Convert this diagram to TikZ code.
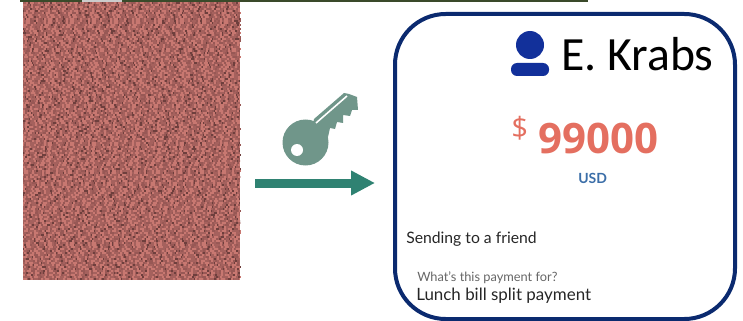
\documentclass[tikz,border=0pt]{standalone}
\usepackage{fontspec}
\setmainfont{Lato}
\newfontfamily\krabsfont{Carlito}
\newfontfamily\amountfont{Open Sans}
\usetikzlibrary{arrows.meta, positioning}
\definecolor{noisedark}{HTML}{6E3F3D}
\definecolor{noisemid}{HTML}{985855}
\definecolor{noisebase}{HTML}{A5615D}
\definecolor{noiselight}{HTML}{C87871}
\definecolor{keygrey}{HTML}{70968A}
\definecolor{arrowgreen}{HTML}{2F8272}
\definecolor{cardblue}{HTML}{0B2A6F}
\definecolor{iconblue}{HTML}{12309A}
\definecolor{salmon}{HTML}{E46F60}
\definecolor{usdblue}{HTML}{3B6EA8}
\definecolor{stripgreen}{HTML}{3A4A2A}
\tikzset{
  txt/.style={inner sep=0pt, anchor=base west, text=#1},
  txt/.default=black!85,
  grain/.style={line width=1.5pt, draw=#1},
}

\begin{document}
\begin{tikzpicture}[x=0.75pt, y=-0.75pt, >=Stealth]
        \useasboundingbox (0,0) rectangle (743,321);
        % strip at the top
        \fill[stripgreen] (20,0) rectangle (588,2);
        \fill[black!20] (82,0) rectangle (122,2);
        % noise image
        \node (cipher) [fill=noisebase, inner sep=0pt, minimum width=162.75pt, minimum height=208.5pt] at (131.5,141) {};
        \pgfmathsetseed{42}
        \foreach \j in {0,...,138} {
          \pgfmathsetmacro\pa{60*rnd}
          \pgfmathsetmacro\pb{60*rnd}
          \pgfmathsetmacro\pc{60*rnd}
          \draw[grain=noisedark, dash pattern=on 1.5pt off 6pt on 1.5pt off 9pt on 3pt off 7.5pt on 1.5pt off 4.5pt on 1.5pt off 12pt on 1.5pt off 6pt, dash phase=\pa pt] (23,3+2*\j) -- (240,3+2*\j);
          \draw[grain=noisemid, dash pattern=on 1.5pt off 3pt on 3pt off 6pt on 1.5pt off 1.5pt on 1.5pt off 7.5pt on 3pt off 4.5pt on 1.5pt off 3pt, dash phase=\pb pt] (23,3+2*\j) -- (240,3+2*\j);
          \draw[grain=noiselight, dash pattern=on 1.5pt off 4.5pt on 1.5pt off 1.5pt on 3pt off 3pt on 1.5pt off 6pt on 1.5pt off 1.5pt on 3pt off 4.5pt, dash phase=\pc pt] (23,3+2*\j) -- (240,3+2*\j);
        }
        % key
        \fill[keygrey] (305.5,142.5) circle (23);
        \fill[keygrey] (314,119) -- (344,93) -- (349,94) -- (357,97)
          -- (358,110) -- (352,110) -- (350,116) -- (343,115) -- (343,123) -- (337,122)
          -- (335,129) -- (330,128) -- (328,137) -- (312,130) -- cycle;
        \draw[white, line width=1.2pt] (316,123) -- (347,96);
        \fill[white] (297,150) circle (6);
        % arrow
        \coordinate (a1) at (255,183);
        \coordinate (a2) at (375,183);
        \draw[-{Triangle[length=18pt, width=17.5pt]}, line width=6.75pt, arrowgreen] (a1) -- (a2);
        % card
        \node (card) [draw=cardblue, line width=3pt, rounded corners=38pt, inner sep=0pt, minimum width=255pt, minimum height=228.75pt] at (565,166.5) {};
        % person icon
        \fill[iconblue] (530,45) circle (14);
        \fill[iconblue, rounded corners=4.5pt] (511,63) rectangle (549,76);
        % texts
        \node (krabs) [txt=black, font=\krabsfont\fontsize{35.8}{36}\selectfont] at (561,71) {E. Krabs};
        \node (amount) [txt=salmon, font=\amountfont\bfseries\fontsize{31.5}{31.5}\selectfont] at (538,153) {99000};
        \node (dollar) [txt=salmon, font=\amountfont\fontsize{22}{22}\selectfont] at (511,138) {\$};
        \node (usd) [txt=usdblue, font=\bfseries\fontsize{10.5}{10.5}\selectfont] at (578,183) {USD};
        \node (friend) [txt, font=\fontsize{11.8}{11.8}\selectfont] at (406,243) {Sending to a friend};
        \node (question) [txt=black!60, font=\fontsize{9.6}{9.6}\selectfont] at (417,281) {What's this payment for?};
        \node (lunch) [txt, font=\fontsize{12.7}{12.7}\selectfont] at (416,300) {Lunch bill split payment};
      \end{tikzpicture}
\end{document}
